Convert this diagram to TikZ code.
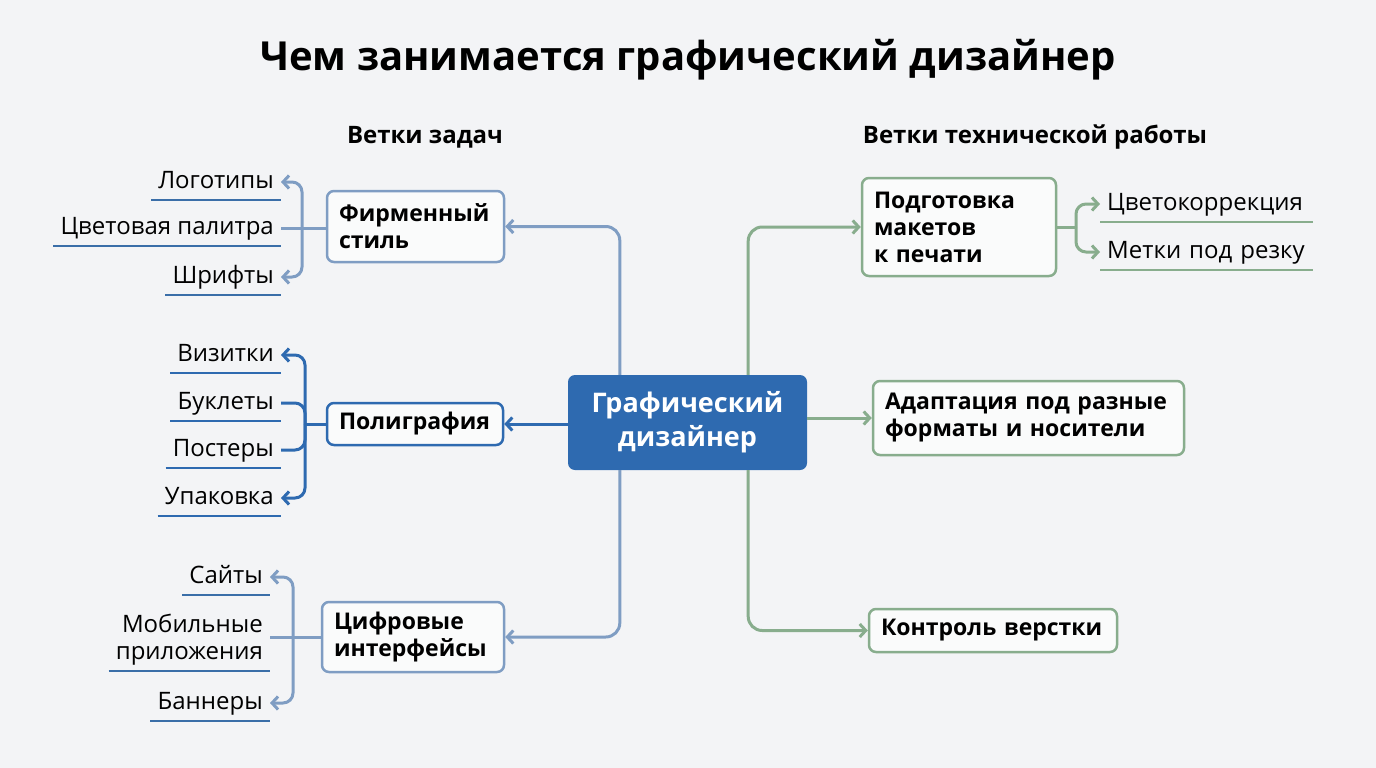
\documentclass[tikz,border=0pt]{standalone}
\usepackage{fontspec}
\setmainfont{Open Sans}
\usepackage{xcolor}
\usetikzlibrary{arrows.meta, positioning}
\definecolor{bgcol}{HTML}{F3F4F6}
\definecolor{slate}{HTML}{7F9DC3}
\definecolor{ublue}{HTML}{3A6EA8}
\definecolor{dblue}{HTML}{2E6AB0}
\definecolor{sage}{HTML}{88AD8D}

\begin{document}
\begin{tikzpicture}[
  x=1pt, y=-1pt,
  box/.style={draw, rounded corners=7pt, line width=2.5pt, fill=white!60!bgcol, align=left,
    font=\fontsize{23}{27}\selectfont\bfseries, inner xsep=12pt, inner ysep=0pt},
  leaf/.style={font=\fontsize{24}{27}\selectfont, text height=16pt, text depth=4pt, inner xsep=7pt, inner ysep=8pt},
  uline/.style={line width=2.5pt},
  link/.style={line width=3pt, rounded corners=14pt},
  tip/.style={-{Straight Barb[length=6pt,width=13pt]}}
]
\fill[bgcol] (0,0) rectangle (1376,768);
\node[font=\fontsize{40}{48}\selectfont\bfseries] (title) at (688,60) {Чем занимается графический дизайнер};
\node[font=\fontsize{24}{28}\selectfont\bfseries] (hl) at (425,137) {Ветки задач};
\node[font=\fontsize{24}{28}\selectfont\bfseries] (hr) at (1035,137) {Ветки технической работы};

% centre
\node[fill=dblue, rounded corners=7pt, minimum width=239pt, minimum height=95pt, text=white, align=center,
  font=\fontsize{27}{34}\selectfont\bfseries] (c) at (687.5,422.5) {Графический\\дизайнер};

% task branches
\node[box, draw=slate, text width=153pt, minimum height=71pt] (fs) at (415.5,226.5) {Фирменный\\стиль};
\node[box, draw=dblue, text width=152pt, minimum height=42pt] (pg) at (415,424) {Полиграфия};
\node[box, draw=slate, text width=158pt, minimum height=70pt] (cf) at (413,637) {Цифровые\\интерфейсы};

% technical branches
\node[box, draw=sage, text width=170pt, minimum height=98pt] (pm) at (959,227) {Подготовка\\макетов\\к печати};
\node[box, draw=sage, text width=287pt, minimum height=74pt] (ad) at (1028.5,418) {Адаптация под разные\\форматы и носители};
\node[box, draw=sage, text width=224pt, minimum height=43pt] (kv) at (993,630.5) {Контроль верстки};

% links from the centre
\draw[link, slate, tip] ([xshift=52pt]c.north west) |- (fs.east);
\draw[link, dblue, tip] (c.west |- pg.east) -- (pg.east);
\draw[link, slate, tip] ([xshift=52pt]c.south west) |- (cf.east);
\draw[link, sage, tip] ([xshift=-59pt]c.north east) |- (pm.west);
\draw[link, sage, tip] (c.east |- ad.west) -- (ad.west);
\draw[link, sage, tip] ([xshift=-59pt]c.south east) |- (kv.west);

% leaves: corporate style
\foreach \i/\y/\txt in {1/182/Логотипы, 2/228/Цветовая палитра, 3/277/Шрифты} {
  \node[leaf, anchor=east] (fl\i) at (281,\y) {\txt};
  \draw[uline, ublue] (fl\i.south west) -- (fl\i.south east);
}
\coordinate (fsb) at (302,228);
\draw[link, slate, rounded corners=10pt] (fs.west |- fsb) -- (fl2.east);
\draw[link, slate, rounded corners=10pt, tip] (fsb) |- (fl1.east);
\draw[link, slate, rounded corners=10pt, tip] (fsb) |- (fl3.east);

% leaves: print
\foreach \i/\y/\txt in {1/355/Визитки, 2/403/Буклеты, 3/450/Постеры, 4/498/Упаковка} {
  \node[leaf, anchor=east] (pl\i) at (281,\y) {\txt};
  \draw[uline, dblue] (pl\i.south west) -- (pl\i.south east);
}
\coordinate (pgb) at (305,424);
\draw[link, dblue] (pg.west) -- (pgb);
\draw[link, dblue, rounded corners=10pt, tip] (pgb) |- (pl1.east);
\draw[link, dblue, rounded corners=10pt, tip] (pgb) |- (pl4.east);
\draw[link, dblue, rounded corners=10pt] (pgb) |- (pl2.east);
\draw[link, dblue, rounded corners=10pt] (pgb) |- (pl3.east);

% leaves: digital
\node[leaf, anchor=east] (cl1) at (270,577) {Сайты};
\node[leaf, anchor=east, align=right] (cl2) at (270,653) {Мобильные\\приложения};
\node[leaf, anchor=east] (cl3) at (270,703) {Баннеры};
\foreach \i in {1,2,3}
  \draw[uline, ublue] (cl\i.south west) -- (cl\i.south east);
\coordinate (cfb) at (293,637);
\draw[link, slate] (cf.west) -- (cl2.east |- cf.west);
\draw[link, slate, rounded corners=10pt, tip] (cfb) |- (cl1.east);
\draw[link, slate, rounded corners=10pt, tip] (cfb) |- (cl3.east);

% leaves: prepress
\foreach \i/\y/\txt in {1/204/Цветокоррекция, 2/252/Метки под резку} {
  \node[leaf, anchor=west, text width=199pt, align=left] (rl\i) at (1100,\y) {\txt};
  \draw[uline, sage] (rl\i.south west) -- (rl\i.south east);
}
\coordinate (pmb) at (1076,227);
\draw[link, sage] (pm.east) -- (pmb);
\draw[link, sage, rounded corners=10pt, tip] (pmb) |- (rl1.west);
\draw[link, sage, rounded corners=10pt, tip] (pmb) |- (rl2.west);
\end{tikzpicture}
\end{document}
